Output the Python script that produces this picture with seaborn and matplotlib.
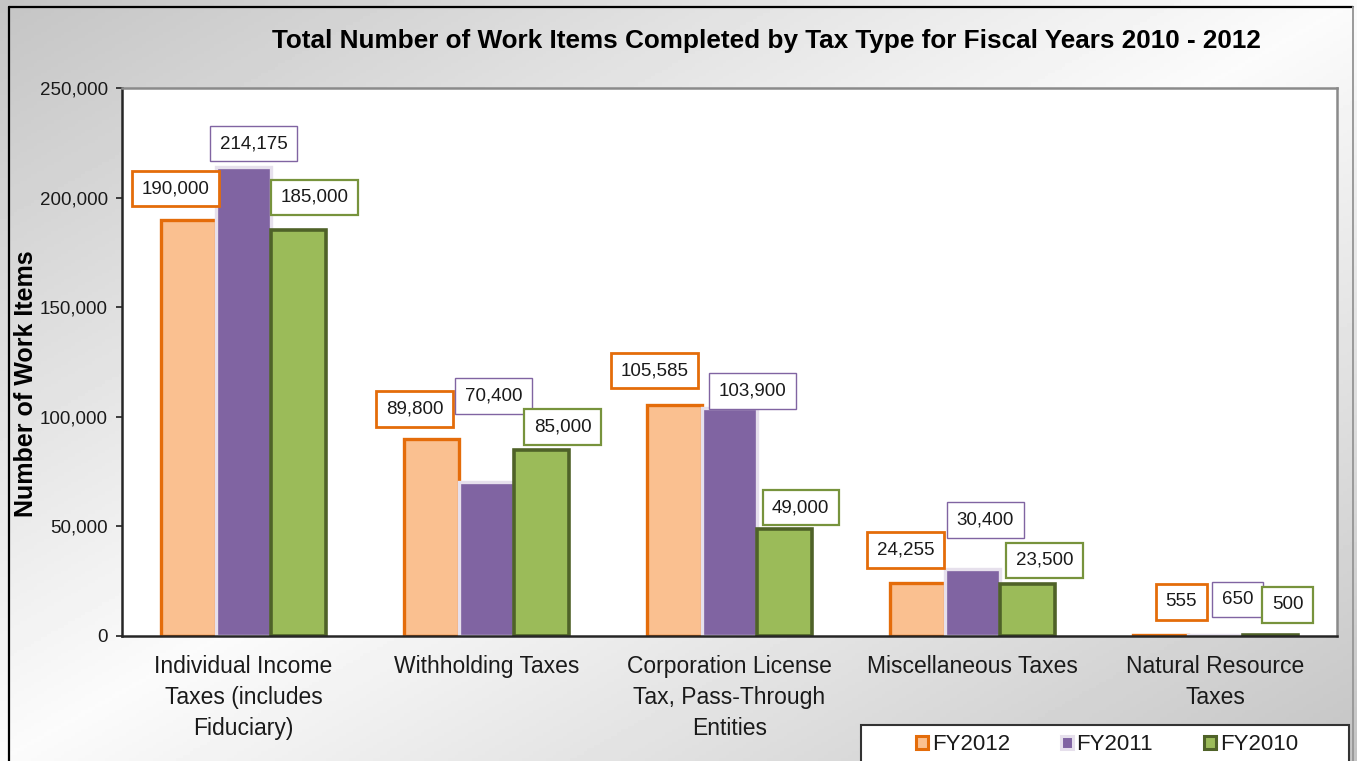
import numpy as np
import pandas as pd
import matplotlib
matplotlib.use("Agg")
import matplotlib.pyplot as plt
import matplotlib.patches as mpatches
import matplotlib.ticker as mticker
from matplotlib.lines import Line2D
import seaborn as sns

# ---------------- data ----------------
categories = [
    "Individual Income\nTaxes (includes\nFiduciary)",
    "Withholding Taxes",
    "Corporation License\nTax, Pass-Through\nEntities",
    "Miscellaneous Taxes",
    "Natural Resource\nTaxes",
]
years = ["FY2012", "FY2011", "FY2010"]
fy2012 = [190000, 89800, 105585, 24255, 555]
fy2011 = [214175, 70400, 103900, 30400, 650]
fy2010 = [185000, 85000, 49000, 23500, 500]
y_ticks = [0, 50000, 100000, 150000, 200000, 250000]

title = "Total Number of Work Items Completed by Tax Type for Fiscal Years 2010 - 2012"
y_label = "Number of Work Items"

# ---------------- styles ----------------
face_colors = ["#FAC090", "#8064A2", "#9BBB59"]
edge_colors = ["#E46C0A", "#E6E0EC", "#4F6228"]
bar_lw = [2.4, 2.4, 2.6]
box_colors = ["#E46C0A", "#8064A2", "#77933C"]
box_lw = [2.0, 1.0, 1.6]
# label box offsets in pixels from the top-centre of each bar
label_dx = [[-13, -17, -20, -12, 21], [10, 7, 23, 13, 22], [16, 21, 16, 17, 17]]
label_dy = [[31, 30, 34, 33, 33], [23, 86, 17, 49, 35], [33, 23, 21, 24, 30]]

sns.set_style("white")
plt.rcParams["font.family"] = ["Liberation Sans", "DejaVu Sans"]

W_PX, H_PX = 1357, 761
fig = plt.figure(figsize=(W_PX / 100, H_PX / 100), dpi=100)

# gradient background
bg = fig.add_axes([0, 0, 1, 1], zorder=-10)
xx, yy = np.meshgrid(np.linspace(0, 1, 400), np.linspace(0, 1, 240))
t = (xx + yy) / 2.0
v = 0.77 + (0.985 - 0.77) * (1 - np.abs(2 * t - 1))
bg.imshow(v, cmap="gray", vmin=0, vmax=1, aspect="auto", extent=[0, 1, 0, 1], origin="upper")
bg.axis("off")

# outer frame lines
fx0, fy0, fx1 = 9 / W_PX, 1 - 7 / H_PX, 1353 / W_PX
fig.add_artist(Line2D([fx0, fx0], [0, fy0], transform=fig.transFigure, color="black", lw=1.6))
fig.add_artist(Line2D([fx0, fx1], [fy0, fy0], transform=fig.transFigure, color="black", lw=1.6))
fig.add_artist(Line2D([fx1, fx1], [0, fy0], transform=fig.transFigure, color="#9a9a9a", lw=1.4))

ax = fig.add_axes([122 / W_PX, 1 - 636 / H_PX, (1337 - 122) / W_PX, (636 - 88) / H_PX])
ax.set_facecolor("white")

df = pd.DataFrame({
    "category": categories * 3,
    "year": np.repeat(years, len(categories)),
    "value": fy2012 + fy2011 + fy2010,
})

sns.barplot(data=df, x="category", y="value", hue="year", order=categories,
            hue_order=years, palette=dict(zip(years, face_colors)), width=0.68,
            saturation=1, legend=False, errorbar=None, ax=ax)

for i, cont in enumerate(ax.containers):
    for j, bar in enumerate(cont.patches):
        bar.set_edgecolor(edge_colors[i])
        bar.set_linewidth(bar_lw[i])
        bar.set_joinstyle("miter")
        cx = bar.get_x() + bar.get_width() / 2
        h = bar.get_height()
        ax.annotate(f"{int(round(h)):,}", xy=(cx, h), xytext=(label_dx[i][j], label_dy[i][j]),
                    textcoords="offset pixels", ha="center", va="center", fontsize=13.5,
                    color="#1a1a1a", zorder=6, annotation_clip=False,
                    bbox=dict(boxstyle="square,pad=0.5", fc="white", ec=box_colors[i], lw=box_lw[i]))

ax.set_xlim(-0.5, len(categories) - 0.5)
ax.set_ylim(0, 250000)
ax.set_yticks(y_ticks)
ax.yaxis.set_major_formatter(mticker.FuncFormatter(lambda v, _: f"{int(v):,}"))
ax.set_xticks(range(len(categories)))
ax.set_xticklabels(categories, fontsize=16.5, color="#1a1a1a", linespacing=1.42)
ax.set_xticks(np.arange(-0.5, len(categories)), minor=True)
ax.tick_params(axis="x", which="major", length=0, pad=14)
ax.tick_params(axis="x", which="minor", length=7, width=1.3, direction="out", color="#202020")
ax.tick_params(axis="y", which="major", length=4, width=1.2, direction="out", color="#202020",
               labelsize=13.5, labelcolor="#1a1a1a", pad=6, left=True)
ax.set_xlabel("")
ax.set_ylabel(y_label, fontsize=18, fontweight="bold", color="black")
ax.yaxis.set_label_coords((38 - 122) / 1215, (636 - 383.5) / 548)

for s in ["left", "bottom"]:
    ax.spines[s].set_color("#262626")
    ax.spines[s].set_linewidth(1.8)
for s in ["top", "right"]:
    ax.spines[s].set_color("#8a8a8a")
    ax.spines[s].set_linewidth(1.8)
    ax.spines[s].set_visible(True)

fig.text(766 / W_PX, 1 - 41 / H_PX, title, ha="center", va="center", fontsize=18.8,
         fontweight="bold", color="black")

# legend frame (cut off at figure bottom)
fig.add_artist(mpatches.Rectangle((861 / W_PX, -0.05), (1349 - 861) / W_PX, (761 - 725) / H_PX + 0.05,
                                  transform=fig.transFigure, fc="white", ec="#333333", lw=1.5, zorder=3))
handles = [mpatches.Patch(facecolor=face_colors[i], edgecolor=edge_colors[i], linewidth=2.2)
           for i in range(3)]
leg = fig.legend(handles, years, loc="center", bbox_to_anchor=(1107 / W_PX, 1 - 745 / H_PX),
                 ncol=3, frameon=False, fontsize=16, handlelength=0.55, handleheight=0.55,
                 handletextpad=0.15, columnspacing=2.3, borderpad=0)
leg.set_zorder(4)
for txt in leg.get_texts():
    txt.set_color("#1a1a1a")

fig.savefig("out.png", dpi=100)
